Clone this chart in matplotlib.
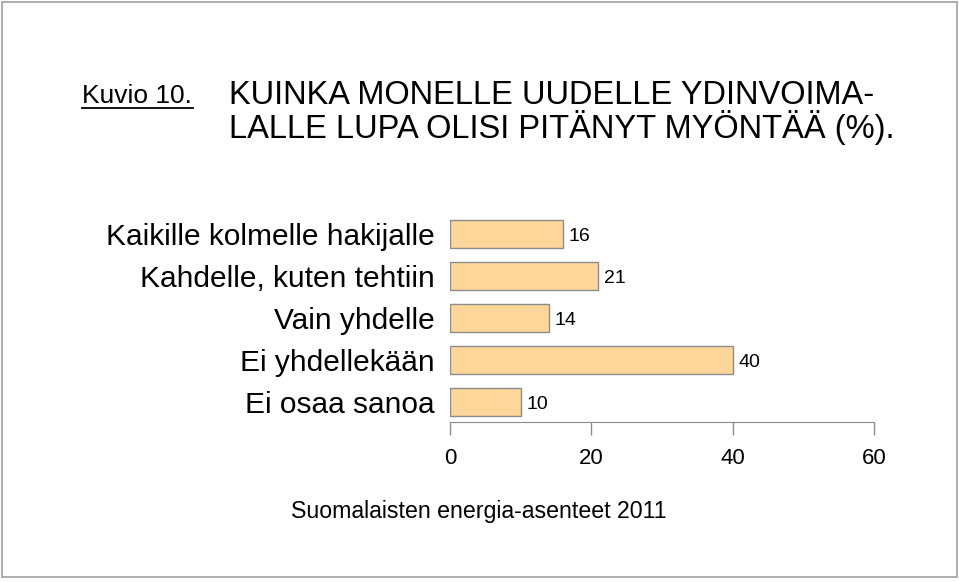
import matplotlib
matplotlib.use("Agg")
import matplotlib.pyplot as plt
from matplotlib.lines import Line2D
from matplotlib.patches import Rectangle

plt.rcParams["font.family"] = ["Liberation Sans", "DejaVu Sans"]

categories = ["Kaikille kolmelle hakijalle", "Kahdelle, kuten tehtiin",
              "Vain yhdelle", "Ei yhdellekään", "Ei osaa sanoa"]
values = [16, 21, 14, 40, 10]
xticks = [0, 20, 40, 60]

C_BAR = "#FFD699"
C_EDGE = "#8C8C8C"

W, H = 959, 582
fig = plt.figure(figsize=(W / 100, H / 100), dpi=100)

def fx(px):
    return px / W

def fy(py):
    return 1 - py / H

# kehys
fig.add_artist(Rectangle((fx(2), fy(577)), fx(955), 575 / H, transform=fig.transFigure,
                         fill=False, edgecolor="#A0A0A0", linewidth=1.2))

ax = fig.add_axes([fx(450), fy(422), fx(874) - fx(450), fy(213) - fy(422)])
pos = list(range(len(categories)))
ax.barh(pos, values, height=0.69, color=C_BAR, edgecolor=C_EDGE, linewidth=1.0)
for p, v in zip(pos, values):
    ax.annotate(f"{v}", xy=(v, p), xytext=(4, -2), textcoords="offset points",
                fontsize=14, va="center", ha="left")

ax.set_xlim(0, 60)
ax.set_ylim(4.476, -0.5)
ax.set_xticks(xticks)
ax.set_xticklabels([str(t) for t in xticks], fontsize=16)
ax.set_yticks(pos)
ax.set_yticklabels(categories, fontsize=21.5)
ax.tick_params(axis="y", length=0, pad=11)
ax.tick_params(axis="x", direction="out", length=9, width=1, color="#8C8C8C", pad=10)
for s in ["top", "right", "left"]:
    ax.spines[s].set_visible(False)
ax.spines["bottom"].set_color("#8C8C8C")

# otsikot
fig.text(fx(82), fy(103), "Kuvio 10.", fontsize=19, va="baseline", ha="left")
fig.add_artist(Line2D([fx(82), fx(193)], [fy(108), fy(108)], transform=fig.transFigure,
                      color="black", linewidth=1.3))
fig.text(fx(229), fy(104), "KUINKA MONELLE UUDELLE YDINVOIMA-", fontsize=23.5,
         va="baseline", ha="left")
fig.text(fx(229), fy(138), "LALLE LUPA OLISI PITÄNYT MYÖNTÄÄ (%).", fontsize=23.5,
         va="baseline", ha="left")

fig.text(fx(479), fy(518), "Suomalaisten energia-asenteet 2011", fontsize=16.7,
         va="baseline", ha="center")

fig.savefig("out.png", dpi=100)
